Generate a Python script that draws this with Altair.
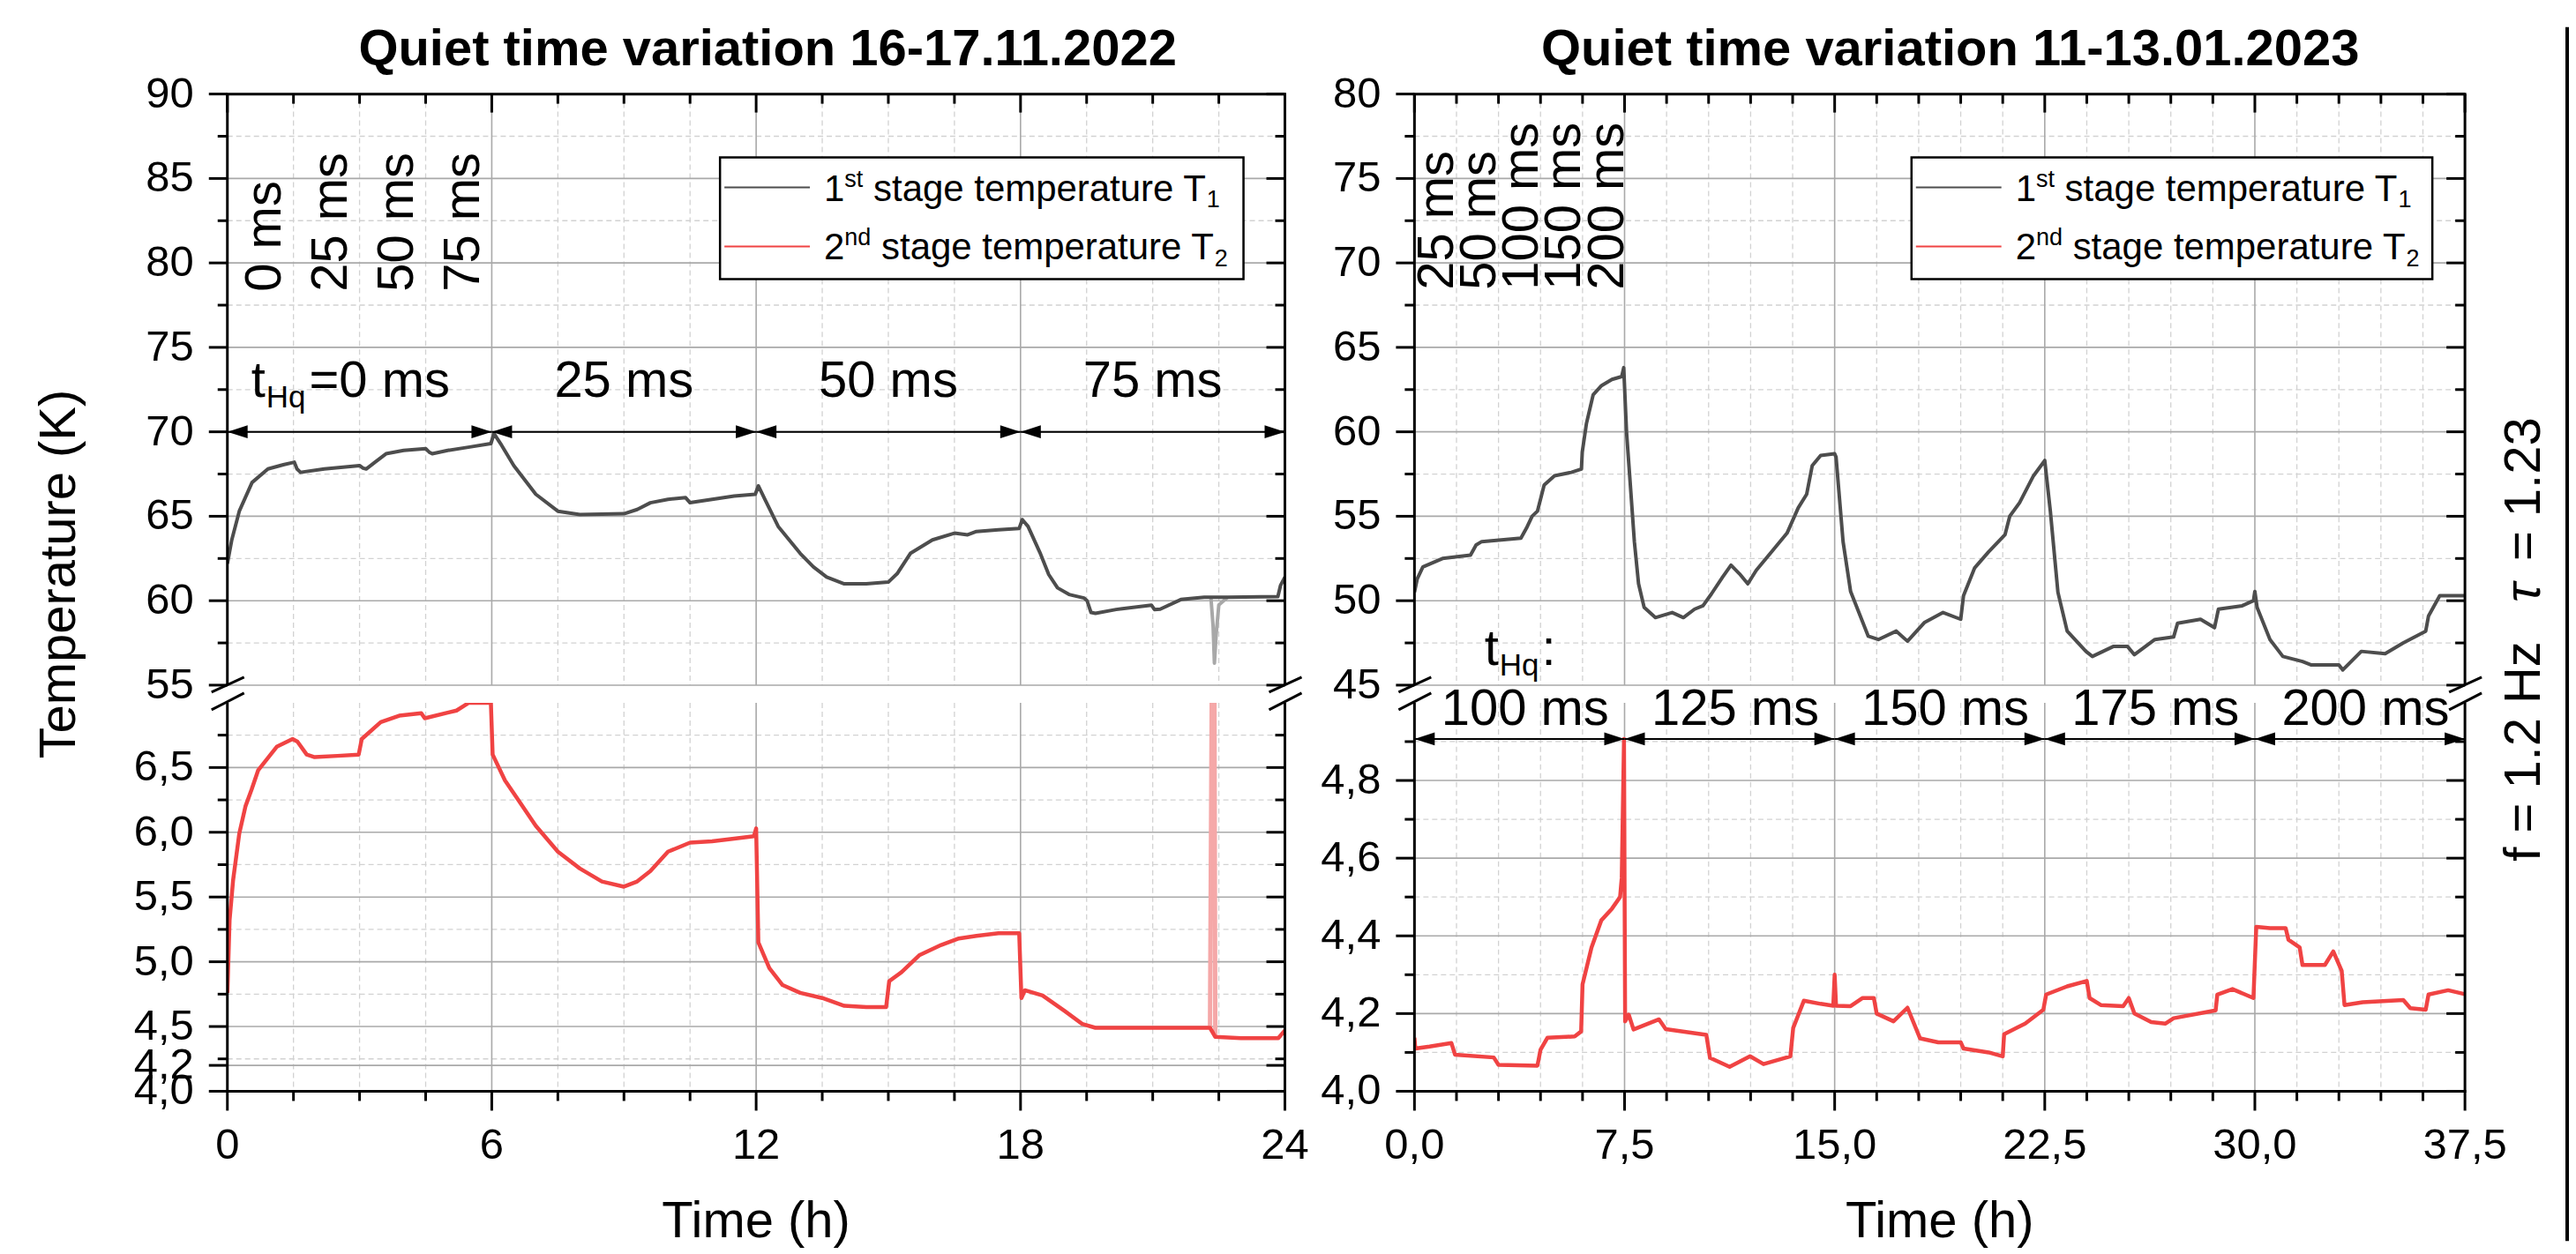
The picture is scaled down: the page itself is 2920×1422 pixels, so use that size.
import altair as alt
import pandas as pd

FONT = "Liberation Sans"

# ---------------- data: left panel (16-17.11.2022) ----------------
L_T1_TIME = [0.0, 0.1, 0.27, 0.56, 0.92, 1.27, 1.52, 1.58, 1.66, 2.2, 3.0, 3.08, 3.15, 3.35, 3.6, 4.0,
             4.5, 4.58, 4.65, 5.0, 5.5, 5.98, 6.05, 6.2, 6.5, 7.0, 7.5, 8.0, 9.0, 9.3, 9.6, 10.0,
             10.4, 10.5, 11.0, 11.5, 11.98, 12.05, 12.2, 12.5, 13.0, 13.3, 13.6, 14.0, 14.5, 15.0,
             15.2, 15.5, 16.0, 16.5, 16.8, 17.0, 17.5, 17.97, 18.04, 18.17, 18.44, 18.64, 18.84,
             19.1, 19.44, 19.51, 19.6, 19.7, 20.17, 20.97, 21.04, 21.17, 21.64, 22.17, 22.32,
             22.7, 23.84, 23.9, 24.0]
L_T1_TEMP = [62.2, 63.6, 65.3, 67.0, 67.8, 68.05, 68.2, 67.8, 67.6, 67.8, 68.0, 67.85, 67.8, 68.2, 68.7, 68.9,
             69.0, 68.8, 68.7, 68.9, 69.1, 69.3, 69.9, 69.3, 68.0, 66.3, 65.3, 65.1, 65.15, 65.4, 65.8, 66.0,
             66.1, 65.8, 66.0, 66.2, 66.3, 66.8, 66.0, 64.4, 62.8, 62.0, 61.4, 61.0, 61.0, 61.1,
             61.6, 62.8, 63.6, 64.0, 63.9, 64.1, 64.2, 64.28, 64.8, 64.4, 62.85, 61.55, 60.76,
             60.37, 60.16, 60.0, 59.3, 59.25, 59.48, 59.74, 59.48, 59.5, 60.07, 60.2, 60.2,
             60.2, 60.24, 60.9, 61.4]
L_T1_DIP_TIME = [22.32, 22.37, 22.40, 22.44, 22.50, 22.70]
L_T1_DIP_TEMP = [60.2, 58.5, 56.3, 58.0, 59.75, 60.2]

L_T2_TIME = [0.0, 0.05, 0.13, 0.27, 0.41, 0.55, 0.7, 0.91, 1.12, 1.48, 1.59, 1.8, 1.98, 2.5, 2.98, 3.05,
             3.48, 3.9, 4.4, 4.48, 5.2, 5.48, 5.98, 6.02, 6.3, 6.6, 7.0, 7.5, 8.0, 8.5, 9.0, 9.3, 9.6,
             10.0, 10.5, 11.0, 11.5, 11.95, 12.0, 12.05, 12.3, 12.6, 13.0, 13.5, 14.0, 14.5, 14.95,
             15.02, 15.3, 15.7, 16.2, 16.6, 17.0, 17.5, 17.97, 18.02, 18.1, 18.5, 19.0, 19.4, 19.7,
             20.5, 21.5, 22.3, 22.42, 23.0, 23.85, 24.0]
L_T2_TEMP = [4.76, 5.32, 5.63, 5.99, 6.2, 6.33, 6.48, 6.57, 6.66, 6.72, 6.7, 6.6, 6.58, 6.59, 6.6, 6.72,
             6.85, 6.9, 6.92, 6.88, 6.94, 7.0, 7.0, 6.6, 6.4, 6.25, 6.05, 5.85, 5.72, 5.62, 5.58, 5.62, 5.7,
             5.85, 5.92, 5.93, 5.95, 5.97, 6.03, 5.15, 4.95, 4.82, 4.76, 4.72, 4.66, 4.65, 4.65,
             4.85, 4.92, 5.05, 5.13, 5.18, 5.2, 5.22, 5.22, 4.72, 4.78, 4.74, 4.62, 4.52, 4.49,
             4.49, 4.49, 4.49, 4.42, 4.41, 4.41, 4.47]
L_T2_SPIKE_TIME = [22.30, 22.34, 22.40, 22.42]
L_T2_SPIKE_TEMP = [4.49, 7.10, 7.10, 4.42]

# ---------------- data: right panel (11-13.01.2023) ----------------
R_T1_TIME = [0.0, 0.1, 0.3, 1.0, 2.0, 2.2, 2.4, 3.8, 4.0, 4.2, 4.39, 4.63, 5.0, 5.6, 5.96, 5.99, 6.14,
             6.38, 6.68, 7.05, 7.4, 7.47, 7.57, 7.7, 7.85, 8.0, 8.2, 8.6, 9.2, 9.6, 10.0, 10.3, 10.6,
             11.0, 11.3, 11.6, 11.9, 12.2, 12.8, 13.3, 13.7, 14.0, 14.2, 14.5, 15.0, 15.05, 15.3,
             15.57, 16.2, 16.56, 17.2, 17.6, 18.2, 18.87, 19.5, 19.6, 20.0, 20.5, 21.08, 21.25, 21.6,
             22.1, 22.5, 22.7, 22.97, 23.3, 23.97, 24.2, 24.96, 25.45, 25.7, 26.43, 27.1, 27.24,
             28.06, 28.56, 28.7, 29.55, 29.95, 30.0, 30.08, 30.54, 31.0, 31.7, 32.0, 33.0, 33.14,
             33.8, 34.65, 35.3, 36.1, 36.2, 36.6, 37.5]
R_T1_TEMP = [50.5, 51.3, 52.0, 52.5, 52.7, 53.3, 53.5, 53.7, 54.3, 55.0, 55.3, 56.85, 57.4, 57.6, 57.8, 58.8, 60.5,
             62.2, 62.74, 63.1, 63.27, 63.8, 60.0, 57.0, 53.5, 51.0, 49.6, 49.0, 49.3, 49.0, 49.5, 49.7, 50.4,
             51.4, 52.1, 51.6, 51.0, 51.8, 53.0, 54.0, 55.5, 56.3, 58.0, 58.6, 58.7, 58.5, 53.5,
             50.54, 47.9, 47.7, 48.2, 47.6, 48.7, 49.3, 48.9, 50.3, 51.95, 52.9, 53.9, 55.0, 55.8,
             57.4, 58.3, 55.3, 50.5, 48.2, 47.0, 46.7, 47.3, 47.3, 46.8, 47.7, 47.85, 48.66,
             48.9, 48.4, 49.5, 49.7, 50.0, 50.55, 49.6, 47.7, 46.7, 46.4, 46.2, 46.2, 45.9,
             47.0, 46.86, 47.5, 48.2, 49.1, 50.3, 50.3]

R_T2_TIME = [0.0, 0.03, 0.54, 1.32, 1.45, 2.83, 3.0, 4.39, 4.5, 4.75, 5.72, 5.95, 6.0, 6.32, 6.67, 7.05,
             7.34, 7.4, 7.48, 7.52, 7.65, 7.82, 8.73, 8.97, 10.42, 10.55, 11.25, 11.98, 12.46, 13.42,
             13.52, 13.9, 14.5, 14.95, 15.0, 15.05, 15.57, 16.0, 16.4, 16.5, 17.1, 17.6, 18.05, 18.7,
             19.5, 19.6, 20.5, 21.0, 21.05, 21.8, 22.45, 22.55, 23.3, 24.0, 24.1, 24.5, 25.3, 25.5,
             25.7, 26.3, 26.8, 27.1, 28.6, 28.66, 29.2, 29.95, 30.05, 30.54, 31.1, 31.2, 31.6, 31.7,
             32.5, 32.8, 33.1, 33.2, 33.85, 35.3, 35.55, 36.1, 36.2, 36.9, 37.5]
R_T2_TEMP = [4.138, 4.11, 4.115, 4.124, 4.094, 4.087, 4.068, 4.066, 4.107, 4.138, 4.141, 4.154, 4.275, 4.37, 4.44, 4.47,
             4.50, 4.55, 4.907, 4.18, 4.197, 4.159, 4.185, 4.16, 4.145, 4.086, 4.063, 4.09, 4.07, 4.09,
             4.163, 4.233, 4.225, 4.22, 4.30, 4.22, 4.219, 4.24, 4.24, 4.20, 4.18, 4.215, 4.136, 4.126,
             4.126, 4.11, 4.10, 4.09, 4.147, 4.174, 4.21, 4.249, 4.27, 4.284, 4.24, 4.222, 4.219, 4.24,
             4.20, 4.178, 4.174, 4.188, 4.208, 4.249, 4.263, 4.24, 4.423, 4.42, 4.42, 4.39, 4.37, 4.325,
             4.325, 4.36, 4.31, 4.222, 4.229, 4.235, 4.214, 4.21, 4.249, 4.26, 4.25]

# ---------------- axes / annotations ----------------
L_X_MAJOR = [0, 6, 12, 18, 24]
L_X_LABELS = ["0", "6", "12", "18", "24"]
L_X_MINOR = [1.5, 3, 4.5, 7.5, 9, 10.5, 13.5, 15, 16.5, 19.5, 21, 22.5]
L_UP_MAJOR = [55, 60, 65, 70, 75, 80, 85, 90]
L_UP_MINOR = [57.5, 62.5, 67.5, 72.5, 77.5, 82.5, 87.5]
L_LO_MAJOR = [4.0, 4.2, 4.5, 5.0, 5.5, 6.0, 6.5]
L_LO_LABELS = ["4,0", "4,2", "4,5", "5,0", "5,5", "6,0", "6,5"]
L_LO_MINOR = [4.25, 4.75, 5.25, 5.75, 6.25, 6.75]

R_X_MAJOR = [0, 7.5, 15, 22.5, 30, 37.5]
R_X_LABELS = ["0,0", "7,5", "15,0", "22,5", "30,0", "37,5"]
R_X_MINOR = [1.5, 3, 4.5, 6, 9, 10.5, 12, 13.5, 16.5, 18, 19.5, 21, 24, 25.5, 27, 28.5,
             31.5, 33, 34.5, 36]
R_UP_MAJOR = [45, 50, 55, 60, 65, 70, 75, 80]
R_UP_MINOR = [47.5, 52.5, 57.5, 62.5, 67.5, 72.5, 77.5]
R_LO_MAJOR = [4.0, 4.2, 4.4, 4.6, 4.8]
R_LO_LABELS = ["4,0", "4,2", "4,4", "4,6", "4,8"]
R_LO_MINOR = [4.1, 4.3, 4.5, 4.7, 4.9]

L_INTERVALS = [0, 6, 12, 18, 24]
L_INTERVAL_LABELS = ["25 ms", "50 ms", "75 ms"]
L_INTERVAL_LABEL_X = [9, 15, 21]
L_ROT_LABELS = ["0 ms", "25 ms", "50 ms", "75 ms"]
L_ROT_X = [1.2, 2.7, 4.2, 5.72]

R_INTERVALS = [0, 7.5, 15, 22.5, 30, 37.5]
R_INTERVAL_LABELS = ["100 ms", "125 ms", "150 ms", "175 ms", "200 ms"]
R_INTERVAL_LABEL_X = [3.95, 11.45, 18.95, 26.45, 33.95]
R_ROT_LABELS = ["25 ms", "50 ms", "100 ms", "150 ms", "200 ms"]
R_ROT_X = [1.38, 2.9, 4.4, 5.9, 7.45]

C_T1 = "#4d4d4d"
C_T2 = "#f04343"
C_MAJ = "#a9a9a9"
C_MIN = "#d2d2d2"

# geometry (pixels)
WL, WR = 1200, 1192
HU, HL = 671, 441
GAP = 20
COLSP = 147


def one():
    return pd.DataFrame({"a": [0]})


def sc(dom):
    return alt.Scale(domain=dom, nice=False, zero=False)


def hlines(vals, ys, x0, x1, color, width, dash=None):
    mk = dict(color=color, strokeWidth=width)
    if dash:
        mk["strokeDash"] = dash
    return alt.Chart(pd.DataFrame({"v": vals})).mark_rule(**mk).encode(
        y=alt.Y("v:Q", scale=ys, axis=None), x=alt.value(x0), x2=alt.value(x1))


def vlines(vals, xs, y0, y1, color, width, dash=None):
    mk = dict(color=color, strokeWidth=width)
    if dash:
        mk["strokeDash"] = dash
    return alt.Chart(pd.DataFrame({"v": vals})).mark_rule(**mk).encode(
        x=alt.X("v:Q", scale=xs, axis=None), y=alt.value(y0), y2=alt.value(y1))


def seg(x0, x1, y0, y1, color="black", width=3):
    return alt.Chart(one()).mark_rule(color=color, strokeWidth=width).encode(
        x=alt.value(x0), x2=alt.value(x1), y=alt.value(y0), y2=alt.value(y1))


def ptext(s, x, y, size, **kw):
    return alt.Chart(one()).mark_text(text=s, font=FONT, fontSize=size, color="black", **kw).encode(
        x=alt.value(x), y=alt.value(y))


W_TAB = {" ": .278, "=": .584, "m": .833, "s": .5, "t": .278, "H": .722, "q": .556, ":": .278,
         "a": .556, "g": .556, "e": .556, "p": .556, "r": .333, "u": .556, "T": .611, "n": .556,
         "d": .556, "z": .5, ".": .278, "f": .278}


def tw(s, size):
    return sum(W_TAB.get(c, .556) for c in s) * size


def line(times, temps, xs, ys, color, width, opacity=1.0):
    df = pd.DataFrame({"t": times, "T": temps})
    return alt.Chart(df).mark_line(clip=True, color=color, strokeWidth=width, opacity=opacity,
                                   strokeJoin="round").encode(
        x=alt.X("t:Q", scale=xs, axis=None), y=alt.Y("T:Q", scale=ys, axis=None))


def arrows(bounds, yval, xs, ys):
    segs = pd.DataFrame({"a": bounds[:-1], "b": bounds[1:], "y": [yval] * (len(bounds) - 1)})
    rl = alt.Chart(segs).mark_rule(color="black", strokeWidth=2).encode(
        x=alt.X("a:Q", scale=xs, axis=None), x2="b:Q", y=alt.Y("y:Q", scale=ys, axis=None))
    left = pd.DataFrame({"x": bounds[:-1], "y": [yval] * (len(bounds) - 1)})
    right = pd.DataFrame({"x": bounds[1:], "y": [yval] * (len(bounds) - 1)})
    hl = alt.Chart(left).mark_point(shape="M0,0L1,-0.32L1,0.32Z", filled=True, size=2116,
                                    color="black", opacity=1, strokeWidth=0).encode(
        x=alt.X("x:Q", scale=xs, axis=None), y=alt.Y("y:Q", scale=ys, axis=None))
    hr = alt.Chart(right).mark_point(shape="M0,0L-1,-0.32L-1,0.32Z", filled=True, size=2116,
                                     color="black", opacity=1, strokeWidth=0).encode(
        x=alt.X("x:Q", scale=xs, axis=None), y=alt.Y("y:Q", scale=ys, axis=None))
    return [rl, hl, hr]


def dtext(xvals, yvals, labels, xs, ys, size, **kw):
    df = pd.DataFrame({"x": xvals, "y": yvals, "s": labels})
    return alt.Chart(df).mark_text(font=FONT, fontSize=size, color="black", **kw).encode(
        x=alt.X("x:Q", scale=xs, axis=None), y=alt.Y("y:Q", scale=ys, axis=None), text="s:N")


def rich(segs, x, y, xs, ys):
    """segs: list of (text, size, dy, extra_dx)"""
    out, dx = [], 0.0
    for s, size, dy, extra in segs:
        dx += extra
        out.append(dtext([x], [y], [s], xs, ys, size, align="left", baseline="alphabetic", dx=dx, dy=dy))
        dx += tw(s, size)
    return out


def frame_and_ticks(W, H, xs, ys, xmaj, xmin, ymaj, ymin, top):
    L = []
    L.append(hlines(ymaj, ys, -21, 0, "black", 3))
    L.append(hlines(ymin, ys, -11, 0, "black", 3))
    L.append(hlines(ymaj, ys, W - 21, W, "black", 3))
    L.append(hlines(ymin, ys, W - 11, W, "black", 3))
    if top:
        L.append(vlines(xmaj, xs, 0, 21, "black", 3))
        L.append(vlines(xmin, xs, 0, 11, "black", 3))
        L.append(seg(-1.5, W + 1.5, 0, 0))
        L.append(seg(0, 0, 0, H))
        L.append(seg(W, W, 0, H))
        for e in (0, W):
            L.append(seg(e - 18, e + 19, H + 8, H - 9))
            L.append(seg(e - 18, e + 19, H + 28, H + 9))
    else:
        L.append(vlines(xmaj, xs, H, H + 22, "black", 3))
        L.append(vlines(xmin, xs, H, H + 11, "black", 3))
        L.append(seg(-1.5, W + 1.5, H, H))
        L.append(seg(0, 0, 0, H))
        L.append(seg(W, W, 0, H))
    return L


def grids(W, H, xs, ys, xmaj, xmin, ymaj, ymin):
    return [
        hlines(ymin, ys, 0, W, C_MIN, 1.3, [6, 4]),
        vlines(xmin, xs, 0, H, C_MIN, 1.3, [6, 4]),
        hlines(ymaj, ys, 0, W, C_MAJ, 1.6),
        vlines(xmaj, xs, 0, H, C_MAJ, 1.6),
    ]


def ylabels(vals, labels, ys):
    df = pd.DataFrame({"v": vals, "s": labels})
    return alt.Chart(df).mark_text(font=FONT, fontSize=49, align="right", baseline="middle",
                                   color="black").encode(
        y=alt.Y("v:Q", scale=ys, axis=None), x=alt.value(-38), text="s:N")


def xlabels(vals, labels, xs, H):
    df = pd.DataFrame({"v": vals, "s": labels})
    return alt.Chart(df).mark_text(font=FONT, fontSize=49, align="center", baseline="alphabetic",
                                   color="black").encode(
        x=alt.X("v:Q", scale=xs, axis=None), y=alt.value(H + 77), text="s:N")


def legend(x0, x1):
    L = [alt.Chart(one()).mark_rect(fill="white", stroke="black", strokeWidth=2.5).encode(
        x=alt.value(x0), x2=alt.value(x1), y=alt.value(72), y2=alt.value(210))]
    L.append(seg(x0 + 5, x0 + 102, 106, 106, C_T1, 2))
    L.append(seg(x0 + 5, x0 + 102, 173, 173, C_T2, 2))
    for yb, num, sup, sub in ((121, "1", "st", "1"), (188, "2", "nd", "2")):
        dx = x0 + 118
        for s, size, dy, pre in ((num, 42, 0, 0), (sup, 27, -16, 0),
                                 ("stage temperature T", 42, 0, tw(" ", 42)), (sub, 27, 8, 0)):
            dx += pre
            L.append(ptext(s, dx, yb + dy, size, align="left", baseline="alphabetic"))
            dx += tw(s, size)
    return L


# ================= LEFT PANEL =================
xsL = sc([0, 24])
ysLU = sc([55, 90])
ysLL = sc([4.0, 7.0])

upL = grids(WL, HU, xsL, ysLU, L_X_MAJOR, L_X_MINOR, L_UP_MAJOR, L_UP_MINOR)
upL += [line(L_T1_DIP_TIME, L_T1_DIP_TEMP, xsL, ysLU, "#a8a8a8", 4),
        line(L_T1_TIME, L_T1_TEMP, xsL, ysLU, C_T1, 4)]
upL += arrows(L_INTERVALS, 70, xsL, ysLU)
upL.append(dtext(L_INTERVAL_LABEL_X, [72.07] * 3, L_INTERVAL_LABELS, xsL, ysLU, 58,
                 align="center", baseline="alphabetic"))
upL += rich([("t", 58, 0, 0), ("Hq", 35, 12, 1), ("=0 ms", 58, 0, 4)], 0.54, 72.07, xsL, ysLU)
upL.append(dtext(L_ROT_X, [78.3] * 4, L_ROT_LABELS, xsL, ysLU, 58, align="left",
                 baseline="alphabetic", angle=270))
upL += legend(559, 1153)
upL += frame_and_ticks(WL, HU, xsL, ysLU, L_X_MAJOR, L_X_MINOR, L_UP_MAJOR, L_UP_MINOR, True)
upL.append(ylabels(L_UP_MAJOR, [str(v) for v in L_UP_MAJOR], ysLU))
upL.append(ptext("Quiet time variation 16-17.11.2022", WL / 2 + 13, -33, 58, fontWeight="bold",
                 align="center", baseline="alphabetic"))
upL.append(ptext("Temperature (K)", -190, 545, 58, angle=270, align="center", baseline="middle"))
upperL = alt.layer(*upL).properties(width=WL, height=HU)

loL = grids(WL, HL, xsL, ysLL, L_X_MAJOR, L_X_MINOR, L_LO_MAJOR, L_LO_MINOR)
loL += [line(L_T2_SPIKE_TIME, L_T2_SPIKE_TEMP, xsL, ysLL, "#f5a8a8", 5),
        line(L_T2_TIME, L_T2_TEMP, xsL, ysLL, C_T2, 4.5)]
loL += frame_and_ticks(WL, HL, xsL, ysLL, L_X_MAJOR, L_X_MINOR, L_LO_MAJOR, L_LO_MINOR, False)
loL.append(ylabels(L_LO_MAJOR, L_LO_LABELS, ysLL))
loL.append(xlabels(L_X_MAJOR, L_X_LABELS, xsL, HL))
loL.append(ptext("Time (h)", WL / 2, 590, 58, align="center", baseline="middle"))
lowerL = alt.layer(*loL).properties(width=WL, height=HL)

# ================= RIGHT PANEL =================
xsR = sc([0, 37.5])
ysRU = sc([45, 80])
ysRL = sc([4.0, 5.0])

upR = grids(WR, HU, xsR, ysRU, R_X_MAJOR, R_X_MINOR, R_UP_MAJOR, R_UP_MINOR)
upR += [line(R_T1_TIME, R_T1_TEMP, xsR, ysRU, C_T1, 4)]
upR.append(dtext(R_ROT_X, [68.4] * 5, R_ROT_LABELS, xsR, ysRU, 58, align="left",
                 baseline="alphabetic", angle=270))
upR += rich([("t", 58, 0, 0), ("Hq", 35, 12, 1), (":", 58, 0, 3)], 2.5, 46.22, xsR, ysRU)
upR += legend(564, 1155)
upR += frame_and_ticks(WR, HU, xsR, ysRU, R_X_MAJOR, R_X_MINOR, R_UP_MAJOR, R_UP_MINOR, True)
upR.append(ylabels(R_UP_MAJOR, [str(v) for v in R_UP_MAJOR], ysRU))
upR.append(ptext("Quiet time variation 11-13.01.2023", WR / 2 + 12, -33, 58, fontWeight="bold",
                 align="center", baseline="alphabetic"))
upR.append(ptext("f = 1.2 Hz", 1277, 871, 58, angle=270, align="left", baseline="alphabetic"))
upR.append(ptext("\u03c4", 1277, 871, 58, angle=270, align="left", baseline="alphabetic",
                 dx=294, fontStyle="italic"))
upR.append(ptext("= 1.23", 1277, 871, 58, angle=270, align="left", baseline="alphabetic", dx=341))
# figure frame edge on the far right
upR.append(seg(1308, 1308, -76, HU + GAP + HL + 170, "black", 4))
upperR = alt.layer(*upR).properties(width=WR, height=HU)

loR = grids(WR, HL, xsR, ysRL, R_X_MAJOR, R_X_MINOR, R_LO_MAJOR, R_LO_MINOR)
loR += [line(R_T2_TIME, R_T2_TEMP, xsR, ysRL, C_T2, 4.5)]
loR += arrows(R_INTERVALS, 4.907, xsR, ysRL)
loR.append(dtext(R_INTERVAL_LABEL_X, [4.942] * 5, R_INTERVAL_LABELS, xsR, ysRL, 58,
                 align="center", baseline="alphabetic"))
loR += frame_and_ticks(WR, HL, xsR, ysRL, R_X_MAJOR, R_X_MINOR, R_LO_MAJOR, R_LO_MINOR, False)
loR.append(ylabels(R_LO_MAJOR, R_LO_LABELS, ysRL))
loR.append(xlabels(R_X_MAJOR, R_X_LABELS, xsR, HL))
loR.append(ptext("Time (h)", WR / 2, 590, 58, align="center", baseline="middle"))
lowerR = alt.layer(*loR).properties(width=WR, height=HL)

chart = alt.concat(upperL, upperR, lowerL, lowerR, columns=2,
                   spacing={"row": GAP, "column": COLSP}, bounds="flush").properties(
    padding={"left": 31, "top": 19, "right": 0, "bottom": 5},
    background="white",
).configure_view(stroke=None)

chart.save("out.html", embed_options={"renderer": "svg", "actions": False})
